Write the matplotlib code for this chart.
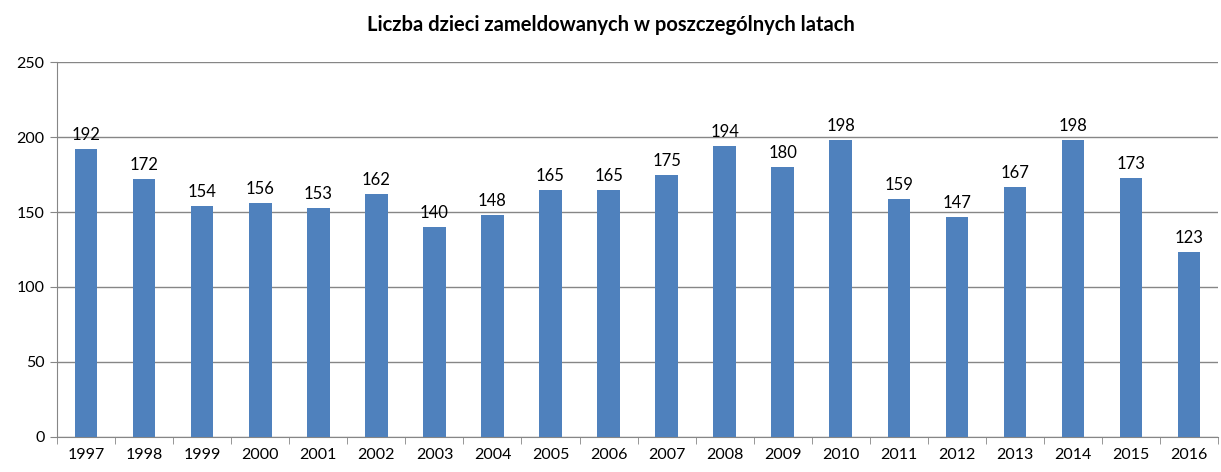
import numpy as np
import matplotlib
matplotlib.use("Agg")
import matplotlib.pyplot as plt

years = [str(y) for y in range(1997, 2017)]
counts = [192, 172, 154, 156, 153, 162, 140, 148, 165, 165,
          175, 194, 180, 198, 159, 147, 167, 198, 173, 123]
y_ticks = [0, 50, 100, 150, 200, 250]

plt.rcParams['font.family'] = ['Lato', 'DejaVu Sans']

fig = plt.figure(figsize=(12.21, 4.72), dpi=100)
ax = fig.add_axes([0.0467, 0.0742, 0.951, 0.7944])

x = np.arange(len(years))
ax.bar(x, counts, width=0.39, color='#4F81BD', zorder=3)
for xi, v in zip(x, counts):
    ax.text(xi, v + 4, str(v), ha='center', va='bottom', fontsize=12, color='black')

ax.set_xlim(-0.5, len(years) - 0.5)
ax.set_ylim(0, 250)
ax.set_yticks(y_ticks)
ax.set_yticklabels([str(t) for t in y_ticks], fontsize=11.5)
ax.yaxis.grid(True, color='#868686', linewidth=1, zorder=0)

# category labels centred, tick marks between categories
ax.set_xticks(x)
ax.set_xticklabels(years, fontsize=11.5)
ax.tick_params(axis='x', length=0, pad=8)
ax.set_xticks(np.arange(len(years) + 1) - 0.5, minor=True)
ax.tick_params(axis='x', which='minor', length=5, color='#868686', direction='out')
ax.tick_params(axis='y', length=5, color='#868686', direction='out', pad=4)

for side in ['top', 'right']:
    ax.spines[side].set_visible(False)
ax.spines['left'].set_color('#868686')
ax.spines['bottom'].set_color('#868686')

fig.text(0.5, 0.947, 'Liczba dzieci zameldowanych w poszczególnych latach',
         ha='center', va='center', fontsize=14.5, fontweight='bold')

fig.savefig('out.png', dpi=100)
